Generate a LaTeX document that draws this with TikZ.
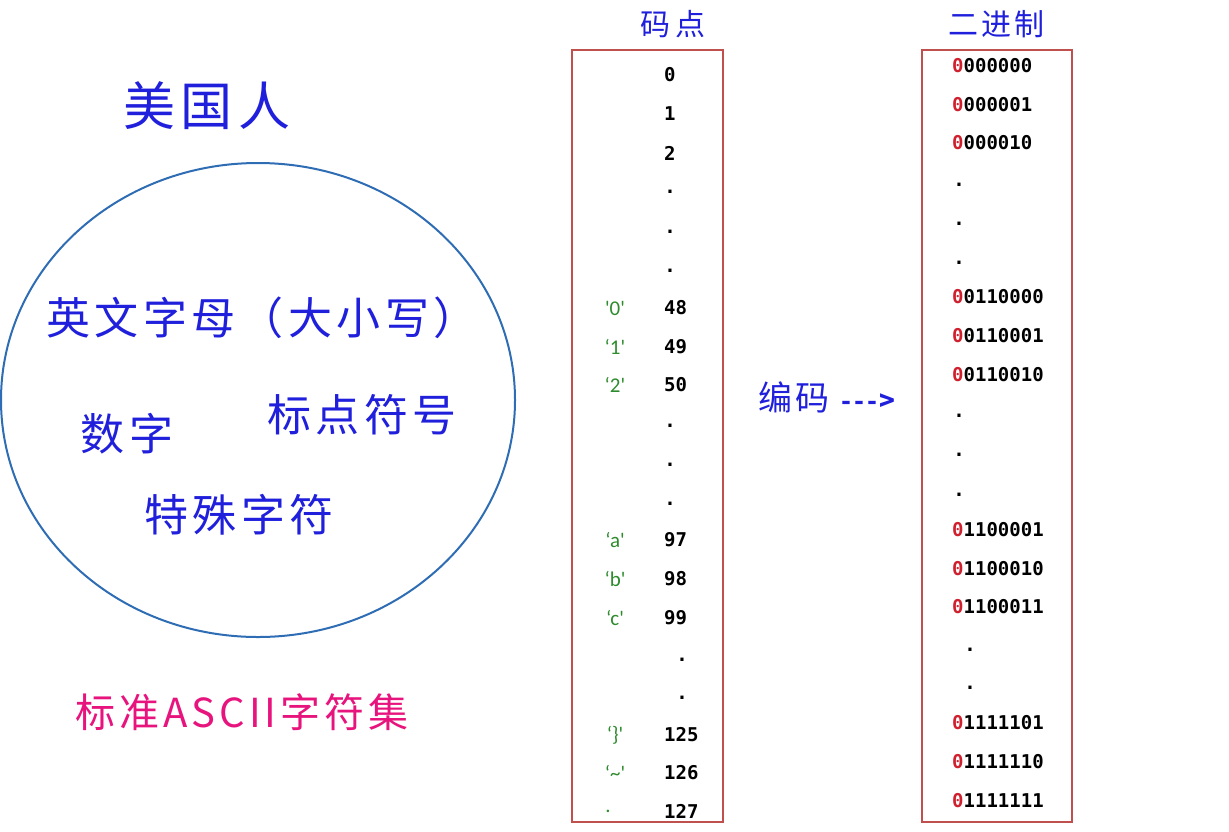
\documentclass[tikz,border=0pt]{standalone}
\usepackage{fontspec}
\newfontfamily\cjk{Noto Sans CJK SC}[LetterSpace=10]
\newfontfamily\monofnt{DejaVu Sans Mono}
\newfontfamily\quotefnt{Carlito}
\definecolor{hanblue}{HTML}{2020DC}
\definecolor{ringblue}{HTML}{2E6DB4}
\definecolor{boxred}{HTML}{C0504D}
\definecolor{bitred}{HTML}{D0202E}
\definecolor{chargreen}{HTML}{2E8B2E}
\definecolor{setpink}{HTML}{E8147E}
\tikzset{
  han label/.style={text=hanblue,font=\cjk\fontsize{44}{44}\selectfont,inner sep=0pt},
  col title/.style={text=hanblue,font=\cjk\fontsize{30}{30}\selectfont,inner sep=0pt},
  code box/.style={draw=boxred,line width=2.6pt},
  code num/.style={anchor=west,font=\monofnt\bfseries\fontsize{19}{19}\selectfont,inner sep=0pt},
  code dot/.style={font=\monofnt\bfseries\fontsize{19}{19}\selectfont,inner sep=0pt},
  code char/.style={text=chargreen,font=\quotefnt\fontsize{21}{21}\selectfont,inner sep=0pt}
}
\newcommand{\bitrow}[1]{\textcolor{bitred}{0}#1}

\begin{document}
\begin{tikzpicture}[x=1pt,y=-1pt]
  \useasboundingbox (0,0) rectangle (1229,831);
  % left side: the set
  \node[han label,font=\cjk\fontsize{52}{52}\selectfont] (usa) at (207,106) {美国人};
  \draw[ringblue,line width=2pt] (258,400) ellipse [x radius=257,y radius=237];
  \node[han label] (letters) at (262,318) {英文字母（大小写）};
  \node[han label] (digits) at (127,434) {数字};
  \node[han label] (punct) at (362,415) {标点符号};
  \node[han label] (special) at (239,515) {特殊字符};
  \node[han label,text=setpink,font=\cjk\fontsize{40}{40}\selectfont] (ascii) at (242,712) {标准ASCII字符集};
  % code points
  \node[col title] (cptitle) at (673,24) {码\,点};
  \draw[code box] (572,50) rectangle (723,822);
  \foreach \y/\n [count=\i] in {75/0,114/1,153/2,308/48,347/49,385/50,540/97,579/98,618/99,735/125,773/126,811/127}
    \node[code num] (cp\i) at (664,\y) {\n};
  \foreach \y/\x [count=\i] in {192/670,232/670,271/670,426/670,465/670,504/670,660/682,698/682}
    \node[code dot] (cpdot\i) at (\x,\y) {.};
  \foreach \y/\c [count=\i] in {308/'0',347/‘1',385/‘2',540/‘a',579/‘b',618/‘c',735/‘\}',773/‘\textasciitilde'}
    \node[code char] (ch\i) at (615,\y) {\c};
  \node[code char] (ch9) at (608,811) {.};
  % encoding
  \node[han label,font=\cjk\fontsize{34}{34}\selectfont] (encode) at (827,397) {编码\hspace{12pt}{\fontsize{26}{26}\selectfont\bfseries --->}};
  % binary
  \node[col title] (bintitle) at (996,24) {二进制};
  \draw[code box] (922,50) rectangle (1072,822);
  \foreach \y/\b [count=\i] in {66/000000,105/000001,143/000010,297/0110000,336/0110001,375/0110010,530/1100001,569/1100010,607/1100011,723/1111101,762/1111110,801/1111111}
    \node[code num] (bin\i) at (952,\y) {\bitrow{\b}};
  \foreach \y/\x [count=\i] in {185/959,224/959,263/959,416/959,455/959,495/959,650/970,688/970}
    \node[code dot] (bindot\i) at (\x,\y) {.};
\end{tikzpicture}
\end{document}
